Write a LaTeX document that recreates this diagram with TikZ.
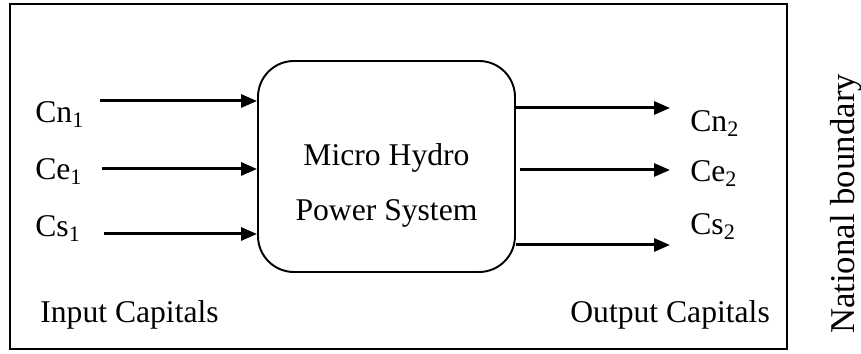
\documentclass[tikz,border=0pt]{standalone}
\usepackage{fontspec}
\setmainfont{Liberation Serif}
\usetikzlibrary{arrows.meta}

\tikzset{
    flow/.style={-{Triangle[length=0.32cm,width=0.26cm]}, line width=1.7pt},
    capital/.style={anchor=base west, inner sep=0pt, font=\fontsize{18}{21}\selectfont},
}

\begin{document}
\begin{tikzpicture}
            \useasboundingbox (0,0) rectangle (17.22,7.08);

            % national boundary
            \draw[line width=1.1pt] (0.2,0.1) rectangle (15.74,7.0);
            \node (border) at (16.93,3.0)[rotate=90, inner sep=0pt, font=\fontsize{19.8}{23}\selectfont]{National boundary};

            % the system
            \node (mhps) at (7.73,3.75)[draw, line width=1.1pt, rounded corners=0.72cm, minimum width=5.14cm, minimum height=4.22cm]{};
            \node (mhpstext) at (7.73,3.37)[align=center, inner sep=0pt, font=\fontsize{18}{31}\selectfont]{Micro Hydro\\Power System};

            % capitals in
            \node (cn1) at (0.7,4.62)[capital]{Cn\textsubscript{1}};
            \node (ce1) at (0.7,3.48)[capital]{Ce\textsubscript{1}};
            \node (cs1) at (0.7,2.34)[capital]{Cs\textsubscript{1}};
            \coordinate (in1) at (2.0,5.06);
            \coordinate (in2) at (2.04,3.7);
            \coordinate (in3) at (2.08,2.4);
            \draw[flow] (in1) -- (in1 -| mhps.west);
            \draw[flow] (in2) -- (in2 -| mhps.west);
            \draw[flow] (in3) -- (in3 -| mhps.west);

            % capitals out
            \node (cn2) at (13.8,4.44)[capital]{Cn\textsubscript{2}};
            \node (ce2) at (13.8,3.44)[capital]{Ce\textsubscript{2}};
            \node (cs2) at (13.8,2.38)[capital]{Cs\textsubscript{2}};
            \coordinate (out1) at (13.4,4.92);
            \coordinate (out2) at (13.4,3.68);
            \coordinate (out3) at (13.4,2.18);
            \draw[flow] (out1 -| mhps.east) -- (out1);
            \draw[flow] (10.4,3.68) -- (out2);
            \draw[flow] (out3 -| mhps.east) -- (out3);

            \node (incap) at (0.8,0.62)[capital]{Input Capitals};
            \node (outcap) at (11.4,0.62)[capital]{Output Capitals};
\end{tikzpicture}
\end{document}
